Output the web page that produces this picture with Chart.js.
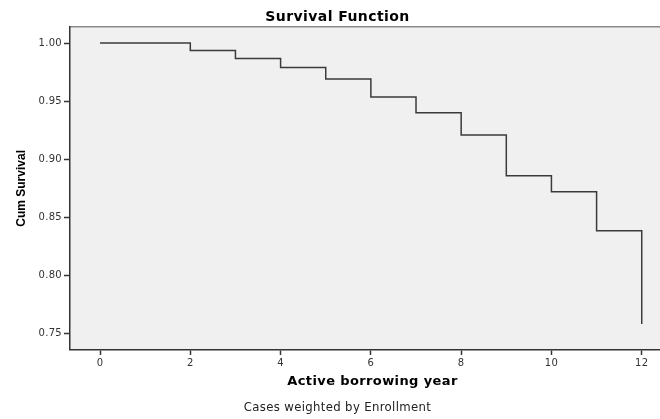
<!DOCTYPE html>
<html>
<head>
<meta charset="utf-8">
<script src="https://cdn.jsdelivr.net/npm/chart.js@4/dist/chart.umd.min.js"></script>
<style>
  html, body { margin: 0; padding: 0; background: #fff; overflow: hidden; }
  #survivalChart { display: block; }
</style>
</head>
<body>
<!-- canvas is a bit wider than the window: the source picture is cropped on the right -->
<canvas id="survivalChart" width="675" height="419"></canvas>
<script>
// Kaplan-Meier estimate (stepped, step at each year)
const years = [0, 2, 3, 4, 5, 6, 7, 8, 9, 10, 11, 12];
const survival = [1.000, 0.9936, 0.9868, 0.979, 0.969, 0.9536, 0.940, 0.9209, 0.8859, 0.8721, 0.8386, 0.7584];
const xTicks = [0, 2, 4, 6, 8, 10, 12];
const yTicks = [0.75, 0.80, 0.85, 0.90, 0.95, 1.00];

const sans = "'DejaVu Sans', sans-serif";
const labelFont = { family: sans, size: 10 };

const ctx = document.getElementById('survivalChart').getContext('2d');

// source image is stretched sideways, so horizontal text gets a little letter spacing
// (the rotated y title uses a 'Narrow' family name and is left alone)
const fontProp = Object.getOwnPropertyDescriptor(CanvasRenderingContext2D.prototype, 'font');
Object.defineProperty(ctx, 'font', {
  get() { return fontProp.get.call(this); },
  set(v) {
    fontProp.set.call(this, v);
    const m = /([\d.]+)px/.exec(v);
    const size = m ? parseFloat(m[1]) : 10;
    this.letterSpacing = v.includes('Narrow') ? '0px' : (size * 0.03).toFixed(2) + 'px';
  }
});

// grey plot background + thin top frame line
const plotFrame = {
  id: 'plotFrame',
  beforeDraw(chart) {
    const { ctx, chartArea: a } = chart;
    ctx.save();
    ctx.fillStyle = '#f0f0f0';
    ctx.fillRect(a.left, a.top, a.right - a.left, a.bottom - a.top);
    ctx.strokeStyle = '#8a8a8a';
    ctx.lineWidth = 1.5;
    ctx.beginPath();
    ctx.moveTo(a.left, a.top);
    ctx.lineTo(a.right, a.top);
    ctx.stroke();
    ctx.restore();
  }
};

new Chart(ctx, {
  type: 'line',
  data: {
    datasets: [{
      label: 'Survival Function',
      data: years.map((y, i) => ({ x: y, y: survival[i] })),
      stepped: 'before',
      borderColor: '#3a3a3a',
      borderWidth: 1.5,
      pointRadius: 0,
      fill: false
    }]
  },
  options: {
    responsive: false,
    animation: false,
    devicePixelRatio: 1,
    layout: { padding: 0 },
    plugins: {
      legend: { display: false },
      tooltip: { enabled: false },
      title: {
        display: true,
        text: 'Survival Function',
        color: '#000',
        font: { family: sans, size: 14, weight: 'bold' },
        padding: { top: 9, bottom: 1 }
      },
      subtitle: {
        display: true,
        position: 'bottom',
        text: 'Cases weighted by Enrollment',
        color: '#222',
        font: { family: sans, size: 11.7 },
        padding: { top: 0, bottom: 4 }
      }
    },
    scales: {
      x: {
        type: 'linear',
        min: -0.665,
        max: 12.737,
        afterBuildTicks: scale => { scale.ticks = xTicks.map(v => ({ value: v })); },
        afterFit: scale => { scale.height = 51; },
        ticks: { color: '#333', font: labelFont, padding: 2, maxRotation: 0 },
        grid: { drawOnChartArea: false, drawTicks: true, tickLength: 5, tickColor: '#333', tickWidth: 1.5 },
        border: { display: true, color: '#333', width: 1.5 },
        title: {
          display: true,
          text: 'Active borrowing year',
          color: '#000',
          font: { family: sans, size: 13, weight: 'bold' },
          padding: { top: 0, bottom: 11.5 }
        }
      },
      y: {
        type: 'linear',
        min: 0.736,
        max: 1.014,
        afterBuildTicks: scale => { scale.ticks = yTicks.map(v => ({ value: v })); },
        afterFit: scale => { scale.width = 70; },
        ticks: { color: '#333', font: labelFont, padding: 2, callback: v => v.toFixed(2) },
        grid: { drawOnChartArea: false, drawTicks: true, tickLength: 6, tickColor: '#333', tickWidth: 1.5 },
        border: { display: true, color: '#333', width: 1.5 },
        title: {
          display: true,
          text: 'Cum Survival',
          color: '#000',
          font: { family: "'Liberation Sans Narrow', 'Liberation Sans', Arial, sans-serif", size: 12, weight: 'bold' },
          padding: { top: 14, bottom: 0 }
        }
      }
    }
  },
  plugins: [plotFrame]
});
</script>
</body>
</html>
